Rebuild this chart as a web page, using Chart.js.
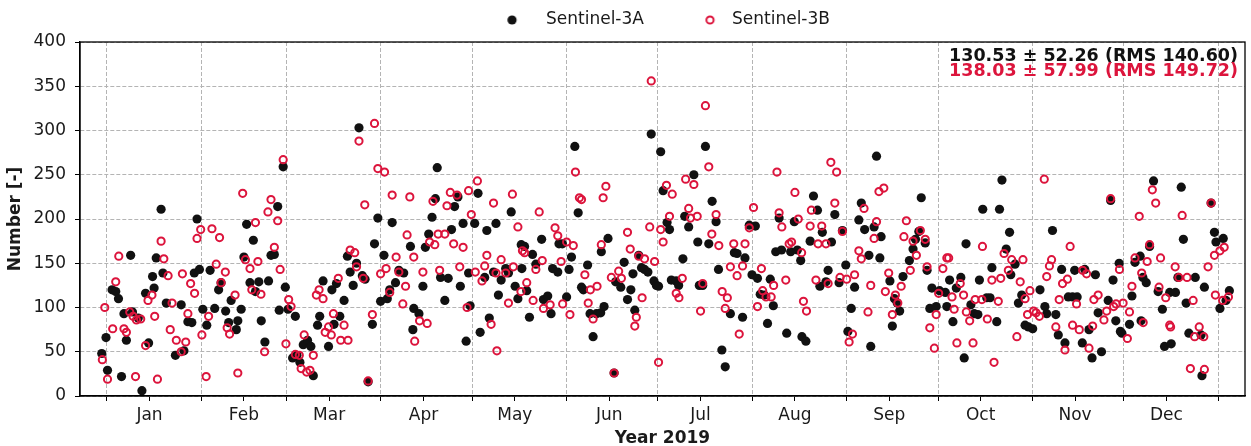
<!DOCTYPE html>
<html>
<head>
<meta charset="utf-8">
<script src="https://cdn.jsdelivr.net/npm/chart.js@4.4.1/dist/chart.umd.min.js"></script>
<style>
  html, body { margin: 0; padding: 0; background: #fff; }
</style>
</head>
<body>
<canvas id="chart" width="1251" height="446"></canvas>
<script>
// ---- data (x = day of 2019, 0 = 1 Jan) ----
const monthNames = ['Jan','Feb','Mar','Apr','May','Jun','Jul','Aug','Sep','Oct','Nov','Dec'];
const monthStarts = [0,31,59,90,120,151,181,212,243,273,304,334,365];

const dayA = [-1.7,-0.3,0.2,1.7,2.9,3.8,4.8,5.6,6.4,7.8,8.4,10.3,11.5,12.7,13.7,15,15.5,16.2,17.8,18.4,19.5,22.5,24.4,25.3,26.6,27.9,28.7,29.6,30.4,31.5,32.8,33.9,35.4,36.7,37.5,39,40,40.8,42.5,43,44.1,45,45.9,47,48.1,48.8,49.9,50.7,51.9,53.1,53.9,55,56.1,56.6,57.9,58.6,59.5,61,61.9,62.4,63.4,64.5,65.9,67,67.8,69.2,69.9,71,72.8,73.9,74.6,75.4,76.5,77.9,79,79.9,80.9,82,82.8,83.9,84.8,85.8,87.2,87.9,89,89.9,91,92.1,92.9,93.7,94.8,95.9,97.5,99.7,100.5,100.8,
  102.5,103.8,104.6,105.7,106.8,107.9,108.5,109.6,111,112.1,113.2,114.2,115.3,116.1,117,118,118.8,119.3,120.8,121.9,122.6,124.1,124.8,125.6,127,127.8,128.6,129.5,131,131.9,132.8,134.1,135,136.1,136.3,
  137.2,137.9,138.8,139.8,140.9,142.8,143.4,144.8,145.9,146.4,148.1,148.5,149.6,151,151.8,152.6,153.7,154.8,155.9,156.5,157.9,158.7,159.7,160.8,162.2,162.4,163.3,164.6,166.6,167.1,168.8,169.9,171,172.1,172.8,173.4,174.7,175.6,
  176.6,177.7,178.8,179.7,180.5,181.2,181.9,182.7,184,184.8,185.4,187,187.8,189.2,189.8,191.1,192.8,194.1,194.6,195.7,196.6,197.7,198.8,200.1,200.9,202,203.1,204.8,206.1,207,208.8,209.6,211,211.9,213,213.7,214.6,
  215.9,217,217.9,218.9,219.7,220.8,221.6,223.3,224.6,225.8,226.8,227.9,228.3,229.6,231,232.1,233.4,234.2,235,236.2,236.9,238,239.1,240.5,241.6,242.7,243.4,244.5,245.6,247,247.8,248.9,250.3,250.9,252,252.8,253.9,
  254.3,257.2,258,258.7,259.6,260.4,261.5,263.6,264.8,265.6,266.7,267.5,268.8,269.4,270.3,271,272.4,273.5,275.4,275.9,276.8,277.9,279,280.5,281.6,282.2,283.8,284.9,286.1,286.6,287.7,289,290.1,290.7,292.3,293.2,294,
  295.4,296.5,296.9,298.3,299.4,300.5,301.6,302.7,304.1,306.5,308.1,308.7,310.6,311.7,312.5,313.6,314.7,315.8,317.2,317.9,318.7,320.4,321.2,322.6,323.6,324.7,325.6,326.7,328.9,329.7,330.5,331.4,332.5,332.9,
  333.4,335.9,336.7,337.7,339.4,339.7,340.3,341.4,342.5,343.8,345.3,346.7,347.4,349.1,349.6,351,351.8,352.9,353.6,354.5,355.4,357.5,359.4,359.7,360.5,362.7,363.8,364.3,365.6,366.7,367.6,368.7];
const numA = [48,66,29,120,118,110,22,93,63,159,95,88,6,116,60,135,122,156,211,139,105,46,103,51,84,83,139,200,143,98,80,142,99,120,128,96,83,108,75,85,98,157,194,128,176,118,129,85,61,130,159,160,214,97,259,123,98,43,90,46,38,58,63,56,23,80,90,130,56,120,81,127,90,108,158,140,125,150,303,136,132,16,81,172,201,107,159,110,120,196,128,142,139,169,75,99,
  93,124,168,183,202,223,258,134,108,133,188,214,225,124,195,62,139,102,195,229,72,134,187,88,140,195,114,131,144,139,208,124,110,171,144,
  169,119,89,160,149,177,109,113,93,144,140,172,172,112,143,157,282,207,123,120,148,93,67,93,94,163,101,178,26,129,123,151,109,120,138,97,159,145,
  143,140,296,130,125,124,276,232,196,188,131,130,125,155,203,191,250,174,125,125,282,172,220,197,143,52,33,93,162,161,89,156,193,137,192,133,115,
  114,82,132,102,163,201,165,71,163,197,165,153,67,62,175,226,210,124,185,129,142,174,205,128,187,148,73,99,123,199,218,188,159,56,191,271,156,
  180,130,79,110,105,96,135,153,166,177,186,224,173,142,99,122,101,119,117,101,131,84,122,134,43,172,103,93,92,131,211,111,111,145,84,211,244,
  166,185,137,149,105,114,80,78,76,120,101,93,187,92,69,143,60,112,112,142,112,60,143,75,43,137,94,50,108,221,131,85,150,73,
  71,81,113,151,158,85,134,128,169,243,118,98,56,117,59,117,134,236,177,105,71,134,69,23,123,218,185,174,99,178,108,119];

const dayB = [-1.5,-0.7,0.2,1.9,2.9,3.9,5.6,6.4,7.5,8.6,9.4,9.7,11.1,12.7,13.5,14.8,15.7,16.6,17.8,18.7,20.1,20.8,21.4,22.8,24.4,24.8,25.9,26.6,27.5,28.8,29.6,30.8,31.2,32.6,33.4,34.5,35.9,37,37.5,38.9,39.5,40.3,42.1,43,44.6,45.5,47,47.6,48.8,49.6,50.6,51.8,52.9,53.9,55,56.1,56.9,57.9,58.8,59.7,60.5,61.9,63.2,63.8,64.8,65.6,66.7,67.8,68.8,69.7,71,71.7,72.8,73.7,74.4,76,76.8,77.9,79.2,79.9,81.4,82,82.8,84.2,84.7,85.8,87.2,87.9,89,89.9,91.2,91.7,92.9,93.7,95,95.9,97.2,98.1,98.6,99.5,100.8,101.1,
  102.7,103.8,105.2,106,107.1,107.7,108.8,109.3,111,111.7,112.8,113.9,115,115.9,117,118.3,118.8,119.7,121,121.7,123.2,124.1,124.8,126.2,127,127.8,128.1,129.5,131,131.9,133.2,133.5,135,136,136.5,
  137.2,137.9,140,140.9,142,143,143.4,145.6,147.2,148.1,149.2,149.7,151,152.1,153.2,153.9,155.2,155.9,157,158.1,158.8,159.7,161,162.4,163,163.9,165.7,166.6,168.1,169,171,171.9,173.4,173.9,174.7,175.8,
  176.6,178.3,178.8,179.9,181.2,181.9,182.7,183.8,184.8,185.7,187,187.9,189,190.1,191.1,191.7,192.8,193.9,195,195.7,196.6,197.7,198.7,200.1,201,202.1,203.1,203.8,204.8,205.9,207,207.7,208.8,209.6,211,212.4,213.7,215,
  215.4,216.5,218.2,219,220.1,220.8,221.7,223,224.1,224.9,226,227.1,228.2,228.8,229.8,231,231.4,232.9,233.6,234.8,236.2,236.9,237.8,239.1,239.7,240.8,241.6,243,243.8,244.9,245.6,247,247.8,248.7,250,250.9,252,252.8,253.6,
  255.2,255.7,256.8,258,259,259.8,260.9,261.8,262.6,263.9,264.8,265.9,267.2,268.8,269.4,270.3,271.8,272.4,273.2,274.6,275.9,276.5,277.6,278.3,279.2,280.3,281.4,282.3,283.4,284.5,285.2,287.4,287.6,289.2,290.7,291.4,292.8,293.6,
  294.7,296.1,297.2,298.9,300,300.9,301.6,302.4,303.2,304.4,305.2,306.3,307.9,308.7,309.6,310.3,311.7,312.8,313.9,314.7,315.5,316.4,317.2,318.5,319.4,320.5,321.8,322.6,323.8,324.2,325.6,327.5,328.4,329.7,330.7,331.5,332.6,
  333.8,335.2,335.9,336.7,337.7,339.1,339.9,340.4,341.7,342.5,343.4,344.5,345.6,346.1,347.8,349.1,349.4,350.9,352.1,353.2,354.8,355.9,356.8,357.3,358.8,360.3,360.5,361.7,362.7,363.8,364.1,365.6,366.5,367,368.4];
const numB = [41,100,19,76,129,158,76,72,95,90,22,86,87,57,108,114,90,19,175,155,136,75,105,63,50,138,61,93,127,116,178,188,69,22,90,189,149,179,128,140,77,70,114,26,229,154,144,120,196,152,115,50,208,222,168,198,143,267,59,109,101,47,46,31,69,27,29,46,114,120,110,72,78,69,93,133,63,80,63,165,162,146,288,133,216,17,92,308,257,138,253,144,117,227,157,140,104,124,182,225,157,62,
  85,140,82,174,220,171,183,142,183,215,230,172,227,146,168,100,232,205,140,243,130,147,159,81,218,139,51,154,139,105,228,146,191,118,164,
  162,128,108,143,208,153,99,103,190,181,152,104,174,92,170,253,224,222,137,105,120,87,124,171,224,237,134,26,141,133,185,166,79,89,158,111,
  155,191,356,152,38,188,174,238,203,228,116,111,133,245,212,201,239,203,96,127,328,259,183,205,170,118,99,111,146,172,136,70,147,172,190,213,101,144,
  119,112,112,125,253,207,191,131,172,174,230,200,162,107,96,192,210,131,172,192,172,127,264,218,253,134,186,132,61,70,137,164,155,212,95,125,178,197,231,
  235,118,139,92,114,105,124,180,198,142,175,159,187,177,146,77,54,92,116,144,156,156,112,98,60,127,114,95,85,60,109,109,169,87,131,38,107,133,
  161,142,154,67,129,154,110,92,119,96,94,90,245,135,147,154,78,109,127,52,132,169,80,104,75,142,138,54,79,109,114,86,96,223,101,104,143,
  105,65,95,124,156,203,139,83,152,171,233,218,123,156,111,80,78,146,134,204,134,31,108,67,78,67,30,146,218,159,114,164,108,168,112];

const seriesNames = ['Sentinel-3A', 'Sentinel-3B'];
const statLines = ['130.53 \u00b1 52.26 (RMS 140.60)', '138.03 \u00b1 57.99 (RMS 149.72)'];

// ---- style ----
const RED = '#DC143C';
const DOT = '#111111';
const GRID = '#b4b4b4';
const FAMILY = "'DejaVu Sans'";
const FS = 17;

// plot box in pixels (axis from 80 to 1249, 107 px = 1 Jan, 3.0548 px/day)
const AREA_L = 80, AREA_R = 1249;
const PX0 = 107, PXD = 3.0548;
const xMin = (AREA_L - PX0) / PXD;
const xMax = (AREA_R - PX0) / PXD;

const monthMids = monthStarts.slice(0, 12).map(d => d + 14);
const xTicks = monthStarts.concat(monthMids).sort((a, b) => a - b);

// legend geometry: text starts / marker centres
const T1 = 548, T2 = 734, M1 = 514, M2 = 712, TEXT_Y = 20;
const meas = document.createElement('canvas').getContext('2d');
meas.font = FS + 'px ' + FAMILY;
const tw1 = meas.measureText(seriesNames[0]).width;
const tw2 = meas.measureText(seriesNames[1]).width;
const half = FS / 2;
const legPad = AREA_L + AREA_R - tw1 - tw2 - 2 * T1;
const boxW = T2 - T1 - tw1 - legPad - half;
const padTop = TEXT_Y - legPad - half;

function markerImg(offset, filled) {
  const c = document.createElement('canvas');
  c.width = 60; c.height = 14;
  const g = c.getContext('2d');
  g.beginPath();
  if (filled) {
    g.arc(30 + offset, 7, 4.6, 0, Math.PI * 2);
    g.fillStyle = DOT; g.fill();
  } else {
    g.arc(30 + offset, 7, 3.6, 0, Math.PI * 2);
    g.strokeStyle = RED; g.lineWidth = 2; g.stroke();
  }
  return c;
}
const s1 = T1 - boxW - half, s2 = T2 - boxW - half;
const legImgA = markerImg(M1 - (s1 + boxW / 2), true);
const legImgB = markerImg(M2 - (s2 + boxW / 2), false);

const framePlugin = {
  id: 'frame',
  afterDraw(chart) {
    const { ctx, chartArea: a } = chart;
    ctx.save();
    ctx.strokeStyle = '#000';
    ctx.lineWidth = 1.3;
    ctx.strokeRect(a.left, a.top, a.right - a.left, a.bottom - a.top);
    ctx.font = 'bold 17.5px ' + FAMILY;
    ctx.textAlign = 'right';
    ctx.textBaseline = 'alphabetic';
    ctx.fillStyle = DOT;
    ctx.fillText(statLines[0], 1238, 61);
    ctx.fillStyle = RED;
    ctx.fillText(statLines[1], 1238, 76);
    ctx.restore();
  }
};

new Chart(document.getElementById('chart'), {
  type: 'scatter',
  data: {
    datasets: [
      {
        label: seriesNames[1],
        data: dayB.map((d, i) => ({ x: d, y: numB[i] })),
        pointRadius: 3.6,
        borderWidth: 2,
        borderColor: RED,
        backgroundColor: 'rgba(0,0,0,0)'
      },
      {
        label: seriesNames[0],
        data: dayA.map((d, i) => ({ x: d, y: numA[i] })),
        pointRadius: 4.6,
        borderWidth: 0,
        backgroundColor: DOT
      }
    ]
  },
  options: {
    responsive: false,
    animation: false,
    layout: { padding: { left: 0, right: 1251 - AREA_R, top: padTop, bottom: 0 } },
    plugins: {
      tooltip: { enabled: false },
      subtitle: { display: true, text: ' ', position: 'top', weight: 500, font: { size: 1 }, padding: { top: 0, bottom: 2.3 } },
      legend: {
        position: 'top',
        fullSize: false,
        labels: {
          usePointStyle: true,
          pointStyleWidth: boxW,
          padding: legPad,
          color: '#1a1a1a',
          font: { family: FAMILY, size: FS },
          generateLabels: chart => {
            const items = Chart.defaults.plugins.legend.labels.generateLabels(chart).reverse();
            items[0].pointStyle = legImgA;
            items[1].pointStyle = legImgB;
            return items;
          }
        }
      }
    },
    scales: {
      x: {
        type: 'linear',
        min: xMin,
        max: xMax,
        afterBuildTicks: s => { s.ticks = xTicks.map(v => ({ value: v })); },
        afterFit: s => { s.height = 50; },
        ticks: {
          autoSkip: false,
          maxRotation: 0,
          padding: 4,
          color: '#1a1a1a',
          font: { family: FAMILY, size: FS },
          callback: v => { const i = monthMids.indexOf(v); return i >= 0 ? monthNames[i] : ''; }
        },
        grid: {
          color: c => (c.tick && monthStarts.includes(c.tick.value)) ? GRID : 'rgba(0,0,0,0)',
          tickColor: '#000',
          tickLength: 5,
          lineWidth: 1
        },
        border: { display: true, color: '#000', width: 1.3, dash: [4, 2] },
        title: {
          display: true,
          text: 'Year 2019',
          color: '#1a1a1a',
          font: { family: FAMILY, size: FS, weight: 'bold' },
          padding: { top: 0, bottom: -3 }
        }
      },
      y: {
        min: 0,
        max: 400,
        afterFit: s => { s.width = AREA_L; },
        ticks: {
          stepSize: 50,
          padding: 9,
          color: '#1a1a1a',
          font: { family: FAMILY, size: FS }
        },
        grid: { color: GRID, tickColor: '#000', tickLength: 5, lineWidth: 1 },
        border: { display: true, color: '#000', width: 1.3, dash: [4, 2] },
        title: {
          display: true,
          text: 'Number [-]',
          color: '#1a1a1a',
          font: { family: FAMILY, size: FS, weight: 'bold' },
          padding: { top: 5, bottom: 0 }
        }
      }
    }
  },
  plugins: [framePlugin]
});
</script>
</body>
</html>
